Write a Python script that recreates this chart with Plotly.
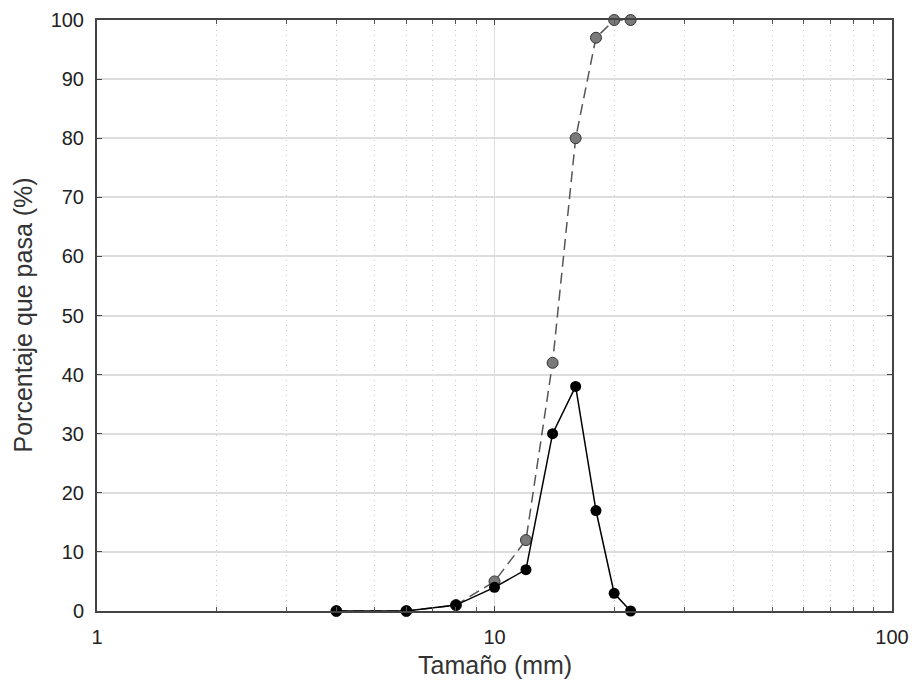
import plotly.graph_objects as go

sizes = [4, 6, 8, 10, 12, 14, 16, 18, 20, 22]
retained = [0, 0, 1, 4, 7, 30, 38, 17, 3, 0]
passing = [0, 0, 1, 5, 12, 42, 80, 97, 100, 100]
x_ticks = [1, 10, 100]
x_minor = [2, 3, 4, 5, 6, 7, 8, 9, 20, 30, 40, 50, 60, 70, 80, 90]
y_ticks = list(range(0, 101, 10))

W, H = 914, 681
ML, MR, MT, MB = 97, 22, 20, 70
pw = W - ML - MR
ph = H - MT - MB

fig = go.Figure()
fig.add_trace(go.Scatter(
    x=sizes, y=passing, mode="lines+markers",
    line=dict(color="#555555", width=1.5, dash="11px,6px"),
    marker=dict(size=11, color="#7a7a7a", line=dict(color="#333333", width=1)),
    showlegend=False, cliponaxis=False,
))
fig.add_trace(go.Scatter(
    x=sizes, y=retained, mode="lines+markers",
    line=dict(color="#000000", width=1.5),
    marker=dict(size=11, color="#000000"),
    showlegend=False, cliponaxis=False,
))

tick_font = dict(family="Liberation Sans, Arial, sans-serif", size=20, color="#222222")
title_font = dict(family="Liberation Sans, Arial, sans-serif", size=25, color="#333333")
fig.update_layout(
    width=W, height=H,
    margin=dict(l=ML, r=MR, t=MT, b=MB, autoexpand=False),
    paper_bgcolor="white", plot_bgcolor="white",
    font=tick_font,
    xaxis=dict(
        type="log", range=[0, 2], automargin=False,
        tickvals=x_ticks, ticktext=[str(v) for v in x_ticks],
        showgrid=True, gridcolor="#dddddd", gridwidth=1,
        ticks="inside", ticklen=5, tickcolor="#444444",
        showline=True, linecolor="#444444", linewidth=2, mirror="ticks",
        minor=dict(ticks="inside", ticklen=4, tickcolor="#555555",
                   showgrid=True, gridcolor="#cccccc", griddash="1px,4px", gridwidth=1,
                   tickvals=x_minor),
        ticklabelstandoff=7,
        tickfont=tick_font, zeroline=False,
    ),
    yaxis=dict(
        range=[0, 100], tickvals=y_ticks, automargin=False,
        showgrid=True, gridcolor="#dddddd", gridwidth=1.5,
        ticks="inside", ticklen=5, tickcolor="#444444",
        showline=True, linecolor="#444444", linewidth=2, mirror="ticks",
        ticklabelstandoff=7,
        tickfont=tick_font, zeroline=False,
    ),
    annotations=[
        dict(text="Tamaño (mm)", x=0.5, y=(H - MB - 665) / ph,
             xref="paper", yref="paper", xanchor="center", yanchor="middle",
             showarrow=False, font=title_font),
        dict(text="Porcentaje que pasa (%)", x=(22 - ML) / pw, y=0.5,
             xref="paper", yref="paper", xanchor="center", yanchor="middle",
             showarrow=False, font=title_font, textangle=-90),
    ],
)

fig.write_html("out.html", config={"displayModeBar": False},
               post_script="document.body.style.margin='0';document.body.style.overflow='hidden';")
